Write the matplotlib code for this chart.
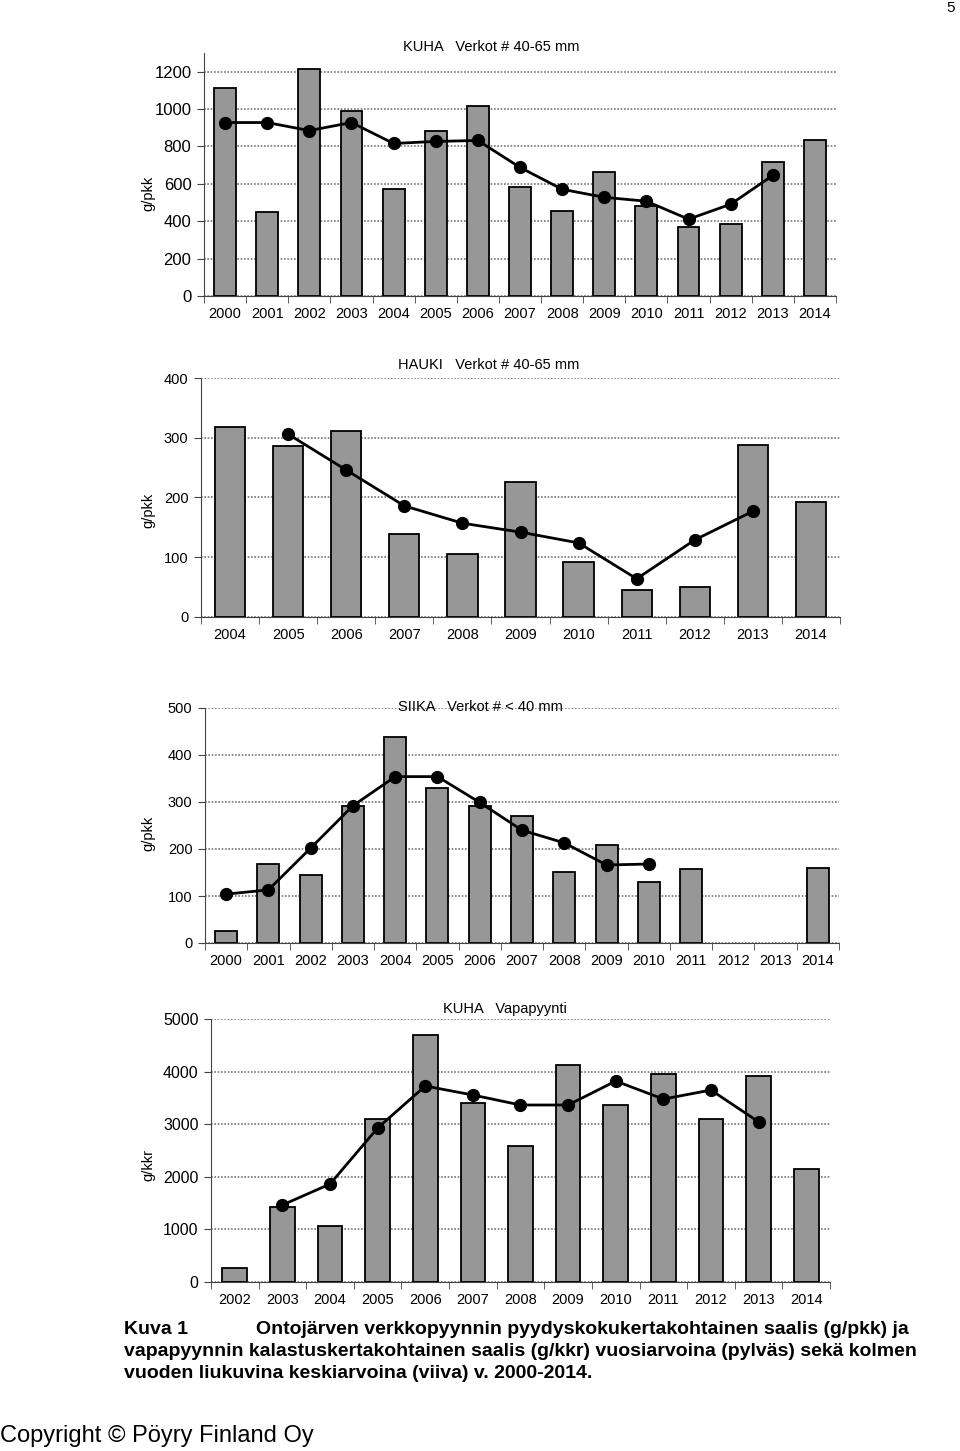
import numpy as np
import matplotlib
matplotlib.use("Agg")
import matplotlib.pyplot as plt

plt.rcParams['font.family'] = ['Liberation Sans', 'DejaVu Sans']

# --- data -------------------------------------------------------------------
kuha_years = list(range(2000, 2015))
kuha_bar = [1115, 448, 1216, 992, 571, 885, 1019, 581, 453, 661, 480, 368, 384, 715, 832]
kuha_avg_years = list(range(2000, 2014))
kuha_avg = [928, 928, 885, 928, 816, 827, 832, 688, 571, 528, 507, 411, 491, 645]

hauki_years = list(range(2004, 2015))
hauki_bar = [318, 286, 311, 139, 105, 226, 92, 45, 50, 288, 192]
hauki_avg_years = list(range(2005, 2014))
hauki_avg = [306, 246, 186, 157, 142, 124, 64, 129, 177]

siika_years = list(range(2000, 2015))
siika_bar = [25, 168, 145, 292, 439, 330, 292, 270, 152, 209, 130, 158, np.nan, np.nan, 160]
siika_avg_years = list(range(2000, 2011))
siika_avg = [104, 113, 202, 292, 354, 354, 299, 240, 213, 166, 168]

vapa_years = list(range(2002, 2015))
vapa_bar = [260, 1426, 1065, 3099, 4696, 3403, 2586, 4125, 3364, 3953, 3097, 3925, 2140]
vapa_avg_years = list(range(2003, 2014))
vapa_avg = [1464, 1863, 2928, 3726, 3555, 3365, 3365, 3820, 3478, 3649, 3045]

W, H = 960, 1451
fig = plt.figure(figsize=(W / 100, H / 100), dpi=100)


def px_axes(left, top, right, bottom):
    return fig.add_axes([left / W, 1 - bottom / H, (right - left) / W, (bottom - top) / H])


def fig_text(x, y, s, **kw):
    fig.text(x / W, 1 - y / H, s, **kw)


def draw_panel(rect, years, bars, avg_years, avg, ymax, yticks, title, title_x, title_y,
               ylabel, ylabel_y, ytick_size=10.5):
    ax = px_axes(*rect)
    x = np.arange(len(years))
    ax.bar(x, bars, width=0.52, color='#979797', edgecolor='black', linewidth=1.3, zorder=3)
    xa = [years.index(y) for y in avg_years]
    ax.plot(xa, avg, color='black', lw=2, marker='o', ms=8.5, zorder=4)

    ax.set_xlim(-0.5, len(years) - 0.5)
    ax.set_ylim(0, ymax)
    ax.set_yticks(yticks)
    ax.yaxis.grid(True, color='#777777', linestyle=(0, (1, 1)), lw=1.2, zorder=0)
    for s in ['top', 'right']:
        ax.spines[s].set_visible(False)
    ax.spines['left'].set_color('#444444')
    ax.spines['bottom'].set_color('#444444')

    ax.set_xticks(x)
    ax.set_xticklabels([str(y) for y in years], fontsize=10.5)
    ax.set_xticks(np.arange(len(years) + 1) - 0.5, minor=True)
    ax.tick_params(axis='x', which='major', length=0, pad=8)
    ax.tick_params(axis='x', which='minor', length=5, color='#444444', direction='out')
    ax.tick_params(axis='y', length=5, color='#444444', labelsize=ytick_size, pad=4)

    fig_text(title_x, title_y, title, fontsize=10.5, ha='left', va='center')
    fig_text(148, ylabel_y, ylabel, fontsize=10.5, rotation=90, ha='center', va='center')
    return ax


draw_panel((204, 53, 836, 296), kuha_years, kuha_bar, kuha_avg_years, kuha_avg,
           1300, range(0, 1201, 200), "KUHA   Verkot # 40-65 mm", 403, 47,
           "g/pkk", 193, ytick_size=12)
draw_panel((201, 378, 840, 617), hauki_years, hauki_bar, hauki_avg_years, hauki_avg,
           400, range(0, 401, 100), "HAUKI   Verkot # 40-65 mm", 398, 365,
           "g/pkk", 510)
draw_panel((205, 708, 839, 943), siika_years, siika_bar, siika_avg_years, siika_avg,
           500, range(0, 501, 100), "SIIKA   Verkot # < 40 mm", 398, 707,
           "g/pkk", 833)
draw_panel((211, 1019, 830, 1282), vapa_years, vapa_bar, vapa_avg_years, vapa_avg,
           5000, range(0, 5001, 1000), "KUHA   Vapapyynti", 443, 1009,
           "g/kkr", 1165, ytick_size=11.5)

# page number
fig_text(955, 8, "5", fontsize=11, ha='right', va='center')

# caption
cap_font = dict(fontsize=14, fontweight='bold', va='center', ha='left')
fig_text(124, 1330, "Kuva 1", **cap_font)
fig_text(256, 1330, "Ontojärven verkkopyynnin pyydyskokukertakohtainen saalis (g/pkk) ja", **cap_font)
fig_text(124, 1351, "vapapyynnin kalastuskertakohtainen saalis (g/kkr) vuosiarvoina (pylväs) sekä kolmen", **cap_font)
fig_text(124, 1373, "vuoden liukuvina keskiarvoina (viiva) v. 2000-2014.", **cap_font)

fig_text(0, 1436, "Copyright © Pöyry Finland Oy", fontsize=17, va='center', ha='left')

fig.savefig("out.png", dpi=100)
